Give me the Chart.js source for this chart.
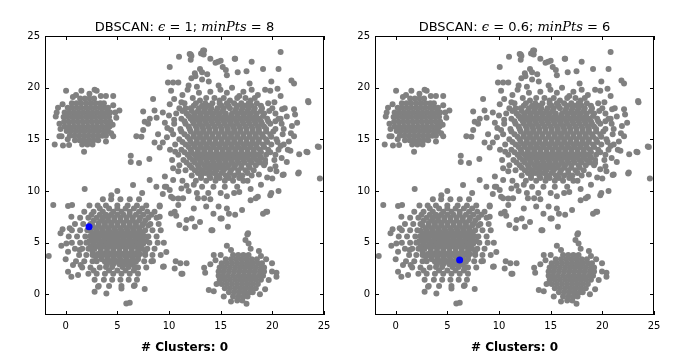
<!DOCTYPE html>
<html>
<head>
<meta charset="utf-8">
<script src="https://cdn.jsdelivr.net/npm/chart.js@4.4.1/dist/chart.umd.min.js"></script>
<style>
  body { margin: 0; background: #fff; }
  #wrap { position: relative; width: 690px; height: 360px; }
  canvas { position: absolute; top: 0; }
</style>
</head>
<body>
<div id="wrap">
  <canvas id="left" width="345" height="360" style="left:0"></canvas>
  <canvas id="right" width="345" height="360" style="left:330px"></canvas>
</div>
<script>
const xTicks = [0, 5, 10, 15, 20, 25]
const yTicks = [0, 5, 10, 15, 20, 25]

const epsValues = ['1', '0.6']
const minPtsValues = ['8', '6']
const clusterCounts = [0, 0]
// the one blue point in each panel
const highlighted = [[2.26, 6.55], [6.19, 3.32]]

// dense parts, read row by row: [y, [x, x, ...]]
const rowsA = [
  [18.95, [1.4, 1.85, 2.3, 2.75]],
  [18.5, [0.6, 1.05, 1.5, 2.0, 2.45, 2.9, 3.35, 3.7]],
  [18.05, [0.2, 0.6, 1.05, 1.5, 1.95, 2.4, 2.85, 3.3, 3.75, 4.1]],
  [17.6, [-0.1, 0.35, 0.8, 1.25, 1.7, 2.15, 2.6, 3.05, 3.5, 3.95, 4.3]],
  [17.15, [-0.2, 0.15, 0.6, 1.05, 1.5, 1.95, 2.4, 2.85, 3.3, 3.75, 4.2]],
  [16.7, [-0.15, 0.3, 0.75, 1.2, 1.65, 2.1, 2.55, 3.0, 3.45, 3.9, 4.3]],
  [16.25, [-0.1, 0.35, 0.8, 1.25, 1.7, 2.15, 2.6, 3.05, 3.5, 3.95, 4.25]],
  [15.8, [0.1, 0.55, 1.0, 1.45, 1.9, 2.35, 2.8, 3.25, 3.7, 4.1]],
  [15.35, [0.4, 0.85, 1.3, 1.75, 2.2, 2.65, 3.1, 3.55, 3.9]],
  [14.9, [0.9, 1.35, 1.8, 2.25, 2.7, 3.15]],
  [14.5, [1.6, 2.1, 2.6]]
]
const rowsB = [
  [19.0, [12.3, 13.6, 14.4, 15.3, 16.6, 17.4, 18.3]],
  [18.75, [13.0, 14.9, 15.9, 17.9]],
  [18.5, [11.5, 12.6, 13.5, 14.2, 14.9, 15.6, 16.3, 17.0, 17.7, 18.5, 19.6]],
  [18.25, [12.4, 13.2, 13.8, 15.1, 15.75, 16.6, 17.3, 18.0, 18.9]],
  [18.0, [11.0, 12.1, 12.9, 13.5, 14.1, 14.7, 15.3, 15.9, 16.5, 17.1, 17.7, 18.3, 19.0, 20.0]],
  [17.75, [11.3, 12.2, 12.8, 13.4, 14.0, 14.6, 15.2, 16.4, 17.0, 17.6, 18.2, 18.9, 19.7]],
  [17.5, [10.7, 11.7, 12.5, 13.1, 13.7, 14.3, 14.9, 15.5, 16.1, 16.7, 17.3, 17.9, 18.5, 19.2, 20.3]],
  [17.25, [11.9, 12.4, 13.0, 13.6, 14.2, 14.8, 15.4, 16.0, 16.6, 17.2, 17.8, 18.4, 19.1]],
  [17.0, [11.2, 12.1, 12.7, 13.3, 13.9, 14.5, 15.1, 15.7, 16.3, 16.9, 17.5, 18.1, 18.7, 19.5, 20.6]],
  [16.75, [11.5, 12.3, 12.9, 13.5, 14.1, 14.7, 15.3, 15.9, 16.5, 17.1, 17.7, 18.3, 18.9, 19.6, 20.3]],
  [16.5, [10.5, 11.6, 12.4, 13.0, 13.6, 14.2, 14.8, 15.4, 16.0, 16.6, 17.2, 17.8, 18.4, 19.0, 19.8, 20.9]],
  [16.25, [11.9, 12.6, 13.2, 13.8, 14.4, 15.0, 15.6, 16.2, 16.8, 17.4, 18.0, 18.6, 19.2]],
  [16.0, [11.1, 12.0, 12.7, 13.3, 13.9, 14.5, 15.1, 15.7, 16.3, 16.9, 17.5, 18.1, 18.7, 19.4, 20.3]],
  [15.75, [11.2, 12.1, 12.7, 13.3, 13.9, 14.5, 15.1, 15.7, 16.3, 16.9, 17.5, 18.1, 18.7, 19.4, 20.1]],
  [15.5, [10.4, 11.5, 12.4, 13.0, 13.6, 14.2, 14.8, 15.4, 16.0, 16.6, 17.2, 17.8, 18.4, 19.0, 19.8, 21.0]],
  [15.25, [11.8, 12.4, 13.0, 13.6, 14.2, 14.8, 15.4, 16.0, 16.6, 17.2, 17.8, 18.4, 19.1, 19.9]],
  [15.0, [11.0, 12.0, 12.7, 13.3, 13.9, 14.5, 15.1, 15.7, 16.3, 16.9, 17.5, 18.1, 18.7, 19.4, 20.4]],
  [14.75, [11.3, 12.1, 12.7, 13.3, 13.9, 14.5, 15.1, 15.7, 16.3, 16.9, 17.5, 18.1, 18.7, 19.5, 20.5]],
  [14.5, [10.6, 11.6, 12.4, 13.0, 13.6, 14.2, 14.8, 15.4, 16.0, 16.6, 17.2, 17.8, 18.4, 19.1, 19.9, 21.1]],
  [14.25, [11.9, 12.5, 13.1, 13.7, 14.3, 14.9, 15.5, 16.1, 16.7, 17.3, 17.9, 18.5, 19.2]],
  [14.0, [11.2, 12.1, 12.8, 13.4, 14.0, 14.6, 15.2, 15.8, 16.4, 17.0, 17.6, 18.2, 18.8, 19.6, 20.6]],
  [13.75, [11.5, 12.2, 12.8, 13.4, 14.0, 14.6, 15.2, 15.8, 16.4, 17.0, 17.6, 18.2, 18.9, 19.8]],
  [13.5, [10.9, 11.8, 12.5, 13.1, 13.7, 14.3, 14.9, 15.5, 16.1, 16.7, 17.3, 17.9, 18.6, 19.4, 20.3]],
  [13.25, [12.0, 12.7, 13.3, 13.9, 14.5, 15.1, 15.7, 16.3, 16.9, 17.5, 18.2, 18.9]],
  [13.0, [11.4, 12.3, 13.0, 13.6, 14.2, 14.8, 15.4, 16.0, 16.6, 17.2, 17.8, 18.5, 19.3, 20.2]],
  [12.75, [11.7, 12.5, 13.1, 13.7, 14.3, 14.9, 15.5, 16.1, 16.7, 17.3, 18.0, 18.8]],
  [12.5, [11.0, 12.0, 12.8, 13.4, 14.0, 14.6, 15.2, 15.8, 16.4, 17.0, 17.7, 18.4, 19.2]],
  [12.25, [12.2, 12.9, 13.6, 14.3, 15.0, 15.6, 16.3, 17.0, 17.8]],
  [12.0, [11.6, 12.5, 13.2, 13.9, 14.6, 15.3, 16.0, 16.7, 17.4, 18.2]],
  [11.75, [12.8, 13.5, 14.3, 15.1, 15.9, 16.7, 17.6]],
  [11.5, [12.2, 13.1, 13.9, 14.7, 15.5, 16.3, 17.1, 18.0]],
  [11.25, [13.1, 14.0, 14.9, 15.8, 16.8]],
  [11.0, [12.6, 13.6, 14.5, 15.4, 16.2, 17.2]],
  [10.4, [13.2, 14.3, 15.4, 16.6]],
  [9.8, [13.8, 15.0, 16.3]]
]
const rowsC = [
  [9.2, [3.6, 4.4, 5.3, 6.2, 7.1]],
  [8.6, [2.3, 3.1, 3.9, 5.0, 6.0, 6.9, 7.8]],
  [8.3, [3.3, 4.2, 5.0, 5.8, 6.6, 7.4]],
  [8.0, [1.8, 2.7, 3.6, 4.6, 5.4, 6.2, 7.1, 7.9, 8.6]],
  [7.7, [2.5, 3.3, 3.9, 4.4, 5.0, 5.6, 6.2, 6.8, 7.5, 8.3]],
  [7.4, [1.4, 2.2, 3.0, 3.6, 4.1, 4.7, 5.3, 5.9, 6.5, 7.2, 8.0, 8.8]],
  [7.15, [2.7, 3.5, 4.1, 4.7, 5.3, 5.9, 6.5, 7.1, 7.7]],
  [6.9, [3.2, 3.8, 4.4, 5.0, 5.6, 6.2, 6.8]],
  [6.8, [0.9, 1.7, 2.4, 7.5, 8.2, 9.0]],
  [6.65, [2.6, 3.2, 3.8, 4.4, 5.0, 5.6, 6.2, 6.8, 7.4, 8.0]],
  [6.4, [2.9, 3.5, 4.1, 4.7, 5.3, 5.9, 6.5, 7.1]],
  [6.2, [0.6, 1.4, 2.1, 7.7, 8.4, 9.2]],
  [6.15, [2.4, 3.0, 3.6, 4.2, 4.8, 5.4, 6.0, 6.6, 7.2]],
  [5.9, [2.7, 3.3, 3.9, 4.5, 5.1, 5.7, 6.3, 6.9, 7.4]],
  [5.65, [2.4, 3.0, 3.6, 4.2, 4.8, 5.4, 6.0, 6.6, 7.2, 7.6]],
  [5.6, [0.3, 1.1, 1.9, 8.0, 8.8]],
  [5.4, [2.6, 3.2, 3.8, 4.4, 5.0, 5.6, 6.2, 6.8, 7.4]],
  [5.15, [2.3, 2.9, 3.6, 4.2, 4.8, 5.4, 6.0, 6.6, 7.2, 7.8]],
  [5.0, [0.6, 1.4, 2.0, 8.1, 8.9, 9.5]],
  [4.9, [2.7, 3.3, 3.9, 4.5, 5.1, 5.7, 6.3, 6.9, 7.5]],
  [4.65, [2.4, 3.0, 3.6, 4.2, 4.8, 5.4, 6.0, 6.6, 7.2]],
  [4.4, [0.9, 1.6, 2.2, 2.8, 3.4, 4.0, 4.6, 5.2, 5.8, 6.4, 7.0, 7.4, 7.9, 8.6]],
  [4.15, [2.6, 3.4, 4.0, 4.6, 5.2, 5.8, 6.4, 7.0, 7.7]],
  [3.9, [3.1, 3.7, 4.3, 4.9, 5.5, 6.1, 6.7, 7.2]],
  [3.8, [1.3, 2.0, 2.6, 7.7, 8.4, 9.2]],
  [3.65, [2.9, 3.4, 4.0, 4.6, 5.2, 5.8, 6.4, 7.0]],
  [3.4, [3.5, 4.1, 4.7, 5.3, 5.9, 6.5, 7.0]],
  [3.2, [1.0, 1.8, 2.6, 3.0, 7.6, 8.3]],
  [3.15, [3.8, 4.4, 5.0, 5.6, 6.2, 6.8]],
  [2.9, [4.0, 4.6, 5.2, 5.8, 6.4]],
  [2.65, [3.9, 4.5, 5.5, 6.1, 6.7]],
  [2.6, [1.6, 2.4, 3.3, 7.0, 7.8]],
  [2.3, [2.7, 4.2, 5.0, 5.8, 6.6]],
  [2.0, [2.2, 3.0, 3.8, 4.6, 5.4, 6.2, 7.0]],
  [1.4, [2.8, 3.7, 4.5, 5.3, 6.1, 6.9]],
  [0.8, [3.2, 4.2, 5.4, 6.6]]
]
const rowsD = [
  [3.8, [16.2, 16.7, 17.2, 17.7]],
  [3.4, [15.5, 16.0, 16.5, 17.0, 17.5, 18.0, 18.5]],
  [3.0, [15.1, 15.6, 16.1, 16.6, 17.1, 17.6, 18.1, 18.6, 19.0]],
  [2.6, [14.9, 15.4, 15.9, 16.4, 16.9, 17.4, 17.9, 18.4, 18.9, 19.2]],
  [2.2, [14.8, 15.3, 15.8, 16.3, 16.8, 17.3, 17.8, 18.3, 18.8, 19.2]],
  [1.8, [14.8, 15.2, 15.7, 16.2, 16.7, 17.2, 17.7, 18.2, 18.7, 19.1]],
  [1.4, [14.9, 15.4, 15.9, 16.4, 16.9, 17.4, 17.9, 18.4, 18.9]],
  [1.0, [15.1, 15.6, 16.1, 16.6, 17.1, 17.6, 18.1, 18.6]],
  [0.6, [15.4, 15.9, 16.4, 16.9, 17.4, 17.9, 18.4]],
  [0.2, [15.8, 16.3, 16.8, 17.3, 17.8, 18.1]],
  [-0.2, [16.2, 16.7, 17.2, 17.6]],
  [-0.6, [16.6, 17.1]]
]

// loose points around each group: [x, y]
const straysA = [
  [-1.06, 14.5], [-0.26, 14.4], [0.33, 14.45], [-0.6, 15.3], [-0.4, 15.3], [1.78, 13.8],
  [0.04, 19.7], [1.52, 19.7], [2.8, 19.8], [3.0, 19.7], [3.9, 19.2], [4.6, 19.2],
  [-0.74, 18.06], [-0.87, 17.6], [-0.96, 17.2], [4.8, 17.6], [5.2, 17.8], [4.9, 17.1],
  [4.4, 15.6], [4.6, 15.3], [-0.5, 16.0], [-0.6, 16.5], [-0.3, 18.4], [0.7, 19.1],
  [3.4, 19.2], [4.6, 18.3], [4.55, 16.4], [3.9, 14.8], [0.2, 15.0], [2.3, 19.4], [1.0, 19.3]
]
const straysB = [
  [12.1, 23.2], [12.1, 22.7], [13.1, 23.3], [13.4, 23.6], [13.35, 23.2], [14.0, 22.8],
  [14.5, 22.4], [15.0, 22.6], [15.2, 22.0], [15.5, 21.7], [15.6, 21.2], [16.4, 22.8],
  [16.65, 21.5], [17.5, 21.6], [18.0, 22.5], [19.1, 21.8], [20.6, 21.8], [20.8, 23.45],
  [21.85, 20.7], [22.1, 20.4], [23.46, 18.7], [24.5, 14.26], [23.4, 13.74], [22.6, 13.55],
  [22.56, 11.8], [21.1, 11.6], [13.0, 21.8], [13.2, 21.5], [12.56, 21.1], [13.7, 21.3],
  [12.7, 20.1], [13.2, 20.8], [13.85, 20.6], [14.8, 20.2], [14.98, 19.8], [16.1, 20.0],
  [15.6, 19.5], [18.0, 19.8], [19.3, 19.8], [19.8, 19.7], [20.8, 19.2], [22.1, 17.9],
  [22.2, 17.4], [20.95, 17.9], [22.4, 16.6], [21.9, 16.3], [22.1, 15.3], [21.1, 16.0],
  [21.75, 13.9], [20.8, 14.35], [20.3, 12.4], [19.8, 12.1], [19.3, 12.7],
  [10.07, 22.0], [10.97, 23.0], [9.9, 20.5], [10.4, 20.5], [10.9, 20.5], [10.2, 19.7],
  [10.5, 18.9], [10.07, 18.4], [9.4, 17.6], [9.6, 16.6], [8.8, 17.1], [9.84, 16.1],
  [8.94, 15.5], [9.4, 14.7], [8.6, 14.7], [9.1, 14.2], [7.5, 17.7], [7.65, 16.7],
  [7.5, 15.9], [7.33, 15.25], [8.46, 18.9], [8.6, 17.8], [8.14, 17.0], [7.98, 16.5],
  [6.84, 15.3], [6.3, 13.4], [6.3, 12.8], [7.1, 12.7], [8.1, 13.1], [8.78, 10.4],
  [9.6, 10.4], [9.6, 11.4], [10.4, 9.3], [10.9, 8.64], [11.36, 9.3], [10.2, 7.83],
  [10.7, 7.6], [11.7, 7.2], [13.6, 8.5], [14.3, 7.8], [15.1, 7.35], [15.7, 6.55],
  [14.1, 6.2], [12.5, 6.55], [17.65, 5.9], [19.4, 8.0], [19.1, 7.8], [18.6, 9.45],
  [19.9, 9.8], [21.0, 11.55], [22.5, 11.7], [24.6, 11.2], [24.4, 14.3], [23.3, 13.8],
  [23.5, 18.6], [12.0, 23.25], [12.17, 23.06], [13.3, 23.6], [14.75, 22.5], [16.36, 22.8],
  [12.5, 21.4], [12.17, 20.9], [12.4, 10.6], [12.7, 9.8], [13.4, 9.3], [12.4, 8.3],
  [12.2, 7.35], [13.0, 7.0], [14.2, 6.2], [14.8, 8.5], [15.6, 8.3], [15.8, 7.8],
  [14.98, 7.35], [16.4, 7.7], [17.07, 8.15], [17.9, 9.1], [18.4, 9.3], [19.5, 8.0],
  [20.6, 10.0], [19.8, 9.6], [11.6, 6.4], [14.6, 11.3], [11.3, 19.3], [11.8, 19.8],
  [17.2, 19.6], [18.6, 19.3], [20.2, 18.6], [21.4, 17.2], [21.6, 14.8], [20.9, 13.2],
  [20.0, 11.2], [18.9, 10.6], [17.9, 10.2], [11.7, 10.5], [10.9, 11.9], [10.3, 13.0],
  [10.1, 14.0], [9.8, 15.2], [10.0, 17.3], [11.2, 18.6],
  [10.5, 16.9], [10.2, 15.9], [10.6, 13.8], [10.4, 12.2], [11.3, 11.0], [11.9, 10.0],
  [12.8, 9.3], [14.0, 9.2], [15.6, 9.5], [16.8, 9.9], [17.6, 11.0], [18.7, 11.6],
  [19.5, 11.3], [20.4, 11.9], [21.4, 12.8], [21.8, 15.6], [21.2, 18.0], [20.5, 19.9],
  [19.9, 20.6], [17.8, 20.4], [16.8, 19.2], [14.0, 19.6], [12.9, 19.5], [11.6, 18.0],
  [11.9, 20.2], [20.8, 17.0], [21.5, 14.0]
]
const straysC = [
  [-1.2, 8.64], [-1.64, 3.7], [-0.42, 4.7], [0.07, 4.93], [0.23, 4.12], [0.23, 2.19],
  [0.55, 1.7], [1.2, 1.86], [0.71, 2.83], [0.23, 8.54], [0.62, 8.64], [1.84, 10.2],
  [0.55, 7.5], [0.39, 6.4], [1.36, 4.28], [1.45, 2.83], [2.8, 0.25], [3.13, 0.73],
  [3.94, 0.09], [5.87, -0.88], [6.2, -0.82], [5.4, 0.57], [6.68, 0.89], [7.65, 0.51],
  [9.74, 4.1], [8.45, 3.22], [9.1, 8.5], [6.52, 10.57], [8.13, 11.06], [4.42, 9.6],
  [5.0, 10.0], [7.4, 9.8], [9.4, 9.7], [9.74, 10.4], [10.4, 11.06], [11.2, 10.25],
  [10.07, 10.09], [10.2, 9.44], [10.9, 9.28], [10.55, 8.0], [11.0, 6.7], [9.42, 2.67],
  [10.55, 2.5], [11.2, 2.0], [9.1, 8.6], [9.1, 7.5], [10.65, 3.2], [11.1, 3.0],
  [11.7, 3.0], [11.3, 2.0], [9.5, 2.7], [-0.3, 6.3], [0.0, 3.4], [-0.5, 5.9]
]
const straysD = [
  [17.58, 5.8], [17.4, 5.25], [17.7, 4.93], [15.6, 4.7], [14.33, 3.8], [14.0, 2.9],
  [13.4, 2.57], [13.5, 2.09], [13.85, 0.41], [14.33, 0.3], [19.97, 3.0], [19.97, 2.2],
  [20.4, 2.1], [20.4, 1.7], [19.65, 1.38], [19.3, 0.5], [18.9, 3.7], [19.4, 3.4],
  [15.0, 3.8], [14.6, 1.0], [18.7, 4.2], [16.0, 4.3], [17.9, 4.4], [18.8, 0.0],
  [15.3, -0.2], [16.0, -0.7], [17.5, -0.9], [14.5, 3.3]
]

const fromRows = rows => rows.flatMap(([y, xs]) => xs.map(x => ({ x, y })))
const fromPairs = pairs => pairs.map(([x, y]) => ({ x, y }))

const noisePoints = [
  ...fromRows(rowsA), ...fromRows(rowsB), ...fromRows(rowsC), ...fromRows(rowsD),
  ...fromPairs(straysA), ...fromPairs(straysB), ...fromPairs(straysC), ...fromPairs(straysD)
]

const sans = '"DejaVu Sans", sans-serif'
const serif = '"DejaVu Serif", serif'

const decorations = {
  id: 'decorations',
  afterDraw(chart, args, opts) {
    const { ctx, chartArea: a, scales: { x, y } } = chart
    ctx.save()
    ctx.strokeStyle = '#000'
    ctx.lineWidth = 1
    ctx.strokeRect(a.left + 0.5, a.top + 0.5, a.width - 1, a.height - 1)

    // inward ticks on all four sides
    ctx.beginPath()
    xTicks.forEach(v => {
      const px = Math.round(x.getPixelForValue(v)) + 0.5
      ctx.moveTo(px, a.bottom); ctx.lineTo(px, a.bottom - 4)
      ctx.moveTo(px, a.top); ctx.lineTo(px, a.top + 4)
    })
    yTicks.forEach(v => {
      const py = Math.round(y.getPixelForValue(v)) + 0.5
      ctx.moveTo(a.left, py); ctx.lineTo(a.left + 4, py)
      ctx.moveTo(a.right, py); ctx.lineTo(a.right - 4, py)
    })
    ctx.stroke()

    // title with math parts
    const parts = [
      ['DBSCAN: ', `13px ${sans}`],
      ['ϵ', `italic 13px ${serif}`],
      [' = ', `13px ${serif}`],
      [opts.eps + '; ', `13px ${sans}`],
      ['minPts', `italic 13px ${serif}`],
      [' = ', `13px ${serif}`],
      [opts.minPts, `13px ${sans}`]
    ]
    let total = 0
    parts.forEach(([t, f]) => { ctx.font = f; total += ctx.measureText(t).width })
    let cx = (a.left + a.right) / 2 - total / 2
    ctx.fillStyle = '#000'
    ctx.textBaseline = 'alphabetic'
    ctx.textAlign = 'left'
    parts.forEach(([t, f]) => {
      ctx.font = f
      ctx.fillText(t, cx, 31)
      cx += ctx.measureText(t).width
    })

    ctx.font = `bold 12px ${sans}`
    ctx.textAlign = 'center'
    ctx.fillText('# Clusters: ' + opts.clusters, (a.left + a.right) / 2, 351)
    ctx.restore()
  }
}

function makeChart(canvasId, i) {
  const config = {
    type: 'scatter',
    data: {
      datasets: [
        {
          data: [{ x: highlighted[i][0], y: highlighted[i][1] }],
          backgroundColor: '#0000ff',
          borderWidth: 0,
          pointRadius: 3.5
        },
        {
          data: noisePoints,
          backgroundColor: '#808080',
          borderWidth: 0,
          pointRadius: 3
        }
      ]
    },
    options: {
      responsive: false,
      animation: false,
      events: [],
      layout: { padding: { top: 36, right: 21, left: 0, bottom: 0 } },
      plugins: {
        legend: { display: false },
        tooltip: { enabled: false },
        decorations: { eps: epsValues[i], minPts: minPtsValues[i], clusters: clusterCounts[i] }
      },
      scales: {
        x: {
          type: 'linear',
          min: -2,
          max: 25,
          afterFit: axis => { axis.height = 45 },
          afterBuildTicks: axis => { axis.ticks = xTicks.map(v => ({ value: v })) },
          grid: { display: false, drawTicks: false },
          border: { display: false },
          ticks: { color: '#000', font: { family: sans, size: 10 }, padding: 5, maxRotation: 0 }
        },
        y: {
          type: 'linear',
          min: -2,
          max: 25,
          afterFit: axis => { axis.width = 45 },
          afterBuildTicks: axis => { axis.ticks = yTicks.map(v => ({ value: v })) },
          grid: { display: false, drawTicks: false },
          border: { display: false },
          ticks: { color: '#000', font: { family: sans, size: 10 }, padding: 5 }
        }
      }
    },
    plugins: [decorations]
  }
  return new Chart(document.getElementById(canvasId), config)
}

makeChart('left', 0)
makeChart('right', 1)
</script>
</body>
</html>
